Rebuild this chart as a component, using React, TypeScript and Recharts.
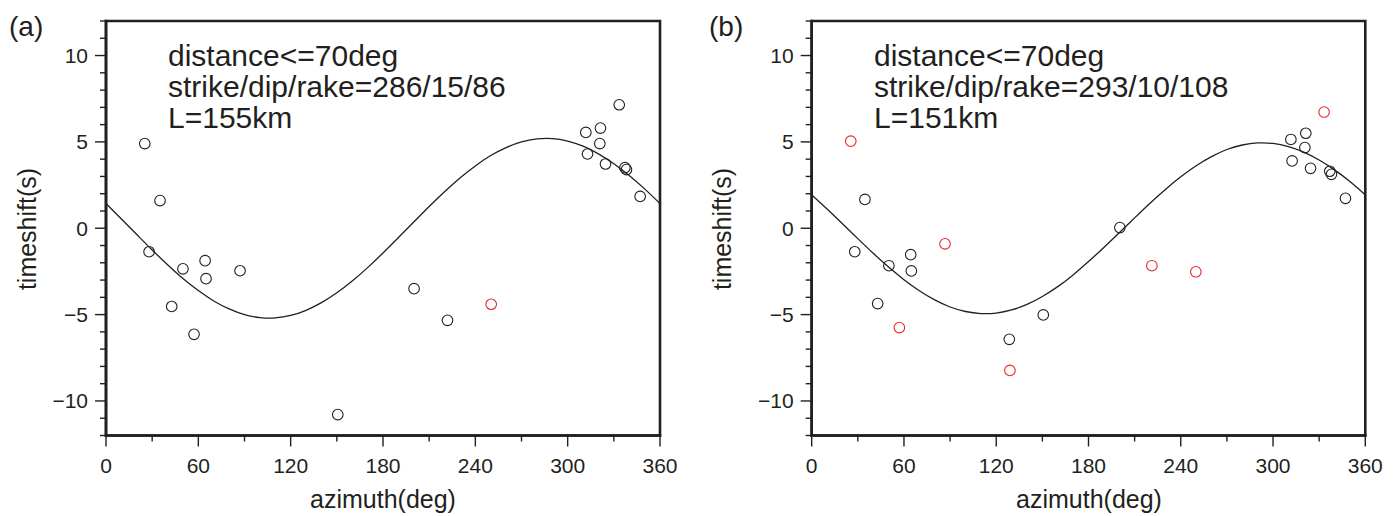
import React from 'react';
import { ComposedChart, Scatter, Line, XAxis, YAxis, ReferenceArea } from 'recharts';

// ---------- data ----------
const curveAzimuth = [0, 10, 20, 30, 40, 50, 60, 70, 80, 90, 100, 110, 120, 130, 140, 150, 160, 170, 180, 190, 200, 210, 220, 230, 240, 250, 260, 270, 280, 290, 300, 310, 320, 330, 340, 350, 360];
const curveShiftA = [1.43, 0.54, -0.36, -1.26, -2.11, -2.91, -3.61, -4.21, -4.67, -5.0, -5.17, -5.19, -5.05, -4.75, -4.31, -3.74, -3.06, -2.28, -1.43, -0.54, 0.36, 1.26, 2.11, 2.91, 3.61, 4.21, 4.67, 5.0, 5.17, 5.19, 5.05, 4.75, 4.31, 3.74, 3.06, 2.28, 1.43];
const curveShiftB = [1.93, 1.11, 0.26, -0.6, -1.45, -2.25, -2.98, -3.62, -4.15, -4.56, -4.82, -4.94, -4.91, -4.73, -4.41, -3.95, -3.38, -2.7, -1.93, -1.11, -0.26, 0.6, 1.45, 2.25, 2.98, 3.62, 4.15, 4.56, 4.82, 4.94, 4.91, 4.73, 4.41, 3.95, 3.38, 2.7, 1.93];

const azimuthA = [25.2, 35.1, 28.0, 50.0, 42.7, 57.2, 64.4, 65.0, 87.1, 150.6, 200.2, 221.9, 333.5, 311.8, 321.3, 320.9, 312.9, 324.6, 337.2, 338.2, 347.1];
const shiftA = [4.9, 1.6, -1.36, -2.35, -4.53, -6.14, -1.88, -2.92, -2.46, -10.79, -3.5, -5.33, 7.15, 5.55, 5.8, 4.9, 4.3, 3.72, 3.51, 3.4, 1.84];
const azimuthARed = [250.3];
const shiftARed = [-4.4];

const azimuthB = [34.6, 28.0, 50.2, 42.9, 64.4, 64.8, 128.5, 150.6, 200.4, 321.3, 311.6, 320.7, 312.4, 324.4, 336.9, 338.0, 347.1];
const shiftB = [1.67, -1.36, -2.17, -4.36, -1.53, -2.47, -6.43, -5.02, 0.04, 5.5, 5.14, 4.67, 3.9, 3.47, 3.3, 3.12, 1.73];
const azimuthBRed = [25.4, 57.0, 86.7, 128.9, 221.2, 249.8, 333.2];
const shiftBRed = [5.04, -5.75, -0.9, -8.23, -2.17, -2.52, 6.73];

const xTicks = [0, 30, 60, 90, 120, 150, 180, 210, 240, 270, 300, 330, 360];
const yTicks = [-12, -11, -10, -9, -8, -7, -6, -5, -4, -3, -2, -1, 0, 1, 2, 3, 4, 5, 6, 7, 8, 9, 10, 11, 12];

const panelALines = ['distance<=70deg', 'strike/dip/rake=286/15/86', 'L=155km'];
const panelBLines = ['distance<=70deg', 'strike/dip/rake=293/10/108', 'L=151km'];

// ---------- style ----------
const INK = '#231f20';
const RED = '#e8262b';
const FONT = '"Liberation Sans", Arial, Helvetica, sans-serif';

const zip = (xs: number[], ys: number[]) => xs.map((x, i) => ({ x, y: ys[i] }));

const fmt = (v: number) => (v < 0 ? '\u2212' + Math.abs(v) : String(v));

const BottomTick = (p: any) => {
  const { x, y, payload } = p;
  const v = payload.value;
  const major = v % 60 === 0;
  return (
    <g>
      <line x1={x} x2={x} y1={y} y2={y + (major ? 11 : 6)} stroke={INK} strokeWidth={1.4} />
      {major && (
        <text x={x} y={y + 37} textAnchor="middle" fontSize={21} fontFamily={FONT} fill={INK}>
          {v}
        </text>
      )}
    </g>
  );
};

const TopTick = (p: any) => {
  const { x, y, payload } = p;
  const major = payload.value % 60 === 0;
  return <line x1={x} x2={x} y1={y} y2={y - (major ? 11 : 6)} stroke={INK} strokeWidth={1.4} />;
};

const LeftTick = (p: any) => {
  const { x, y, payload } = p;
  const v = payload.value;
  const major = v % 5 === 0;
  return (
    <g>
      <line x1={x} x2={x - (major ? 11 : 6)} y1={y} y2={y} stroke={INK} strokeWidth={1.4} />
      {major && (
        <text x={x - 18} y={y + 7.5} textAnchor="end" fontSize={21} fontFamily={FONT} fill={INK}>
          {fmt(v)}
        </text>
      )}
    </g>
  );
};

const RightTick = (p: any) => {
  const { x, y, payload } = p;
  const major = payload.value % 5 === 0;
  return <line x1={x} x2={x + (major ? 11 : 6)} y1={y} y2={y} stroke={INK} strokeWidth={1.4} />;
};

const circleShape = (color: string) => (p: any) => (
  <circle cx={p.cx} cy={p.cy} r={5.3} fill="none" stroke={color} strokeWidth={1.1} />
);

const axisLine = { stroke: INK, strokeWidth: 2.6, strokeLinecap: 'square' as const };

type PanelProps = {
  left: number;
  width: number;
  yAxisWidth: number;
  rightMargin: number;
  curve: number[];
  az: number[];
  sh: number[];
  azRed: number[];
  shRed: number[];
};

const Panel = ({ left, width, yAxisWidth, rightMargin, curve, az, sh, azRed, shRed }: PanelProps) => (
  <div style={{ position: 'absolute', left, top: 0 }}>
    <ComposedChart width={width} height={516} margin={{ top: 21, right: rightMargin, bottom: 0, left: 0 }}>
      <XAxis
        xAxisId="main"
        dataKey="x"
        type="number"
        domain={[0, 360]}
        ticks={xTicks}
        allowDataOverflow
        interval={0}
        height={80.5}
        axisLine={axisLine}
        tickLine={false}
        tickSize={0}
        tickMargin={0}
        tick={BottomTick}
      />
      <XAxis
        xAxisId="top"
        orientation="top"
        dataKey="x"
        type="number"
        domain={[0, 360]}
        ticks={xTicks}
        allowDataOverflow
        interval={0}
        height={0}
        axisLine={axisLine}
        tickLine={false}
        tickSize={0}
        tickMargin={0}
        tick={TopTick}
      />
      <YAxis
        yAxisId="main"
        dataKey="y"
        type="number"
        domain={[-12, 12]}
        ticks={yTicks}
        allowDataOverflow
        interval={0}
        width={yAxisWidth}
        axisLine={axisLine}
        tickLine={false}
        tickSize={0}
        tickMargin={0}
        tick={LeftTick}
      />
      <YAxis
        yAxisId="right"
        orientation="right"
        dataKey="y"
        type="number"
        domain={[-12, 12]}
        ticks={yTicks}
        allowDataOverflow
        interval={0}
        width={0}
        axisLine={axisLine}
        tickLine={false}
        tickSize={0}
        tickMargin={0}
        tick={RightTick}
      />
      <ReferenceArea
        xAxisId="main"
        yAxisId="main"
        x1={0}
        x2={360}
        y1={-12}
        y2={12}
        fill="none"
        fillOpacity={0}
        stroke={INK}
        strokeWidth={2.6}
        ifOverflow="visible"
      />
      <Line
        xAxisId="main"
        yAxisId="main"
        data={zip(curveAzimuth, curve)}
        dataKey="y"
        type="natural"
        stroke={INK}
        strokeWidth={1.3}
        dot={false}
        activeDot={false}
        isAnimationActive={false}
      />
      <Scatter
        xAxisId="main"
        yAxisId="main"
        data={zip(az, sh)}
        shape={circleShape(INK)}
        isAnimationActive={false}
      />
      <Scatter
        xAxisId="main"
        yAxisId="main"
        data={zip(azRed, shRed)}
        shape={circleShape(RED)}
        isAnimationActive={false}
      />
    </ComposedChart>
  </div>
);

const Annotations = ({ offsetX, tag, lines, textX, yTitleX }: { offsetX: number; tag: string; lines: string[]; textX: number; yTitleX: number }) => (
  <svg
    width={700}
    height={516}
    style={{ position: 'absolute', left: offsetX, top: 0, pointerEvents: 'none', overflow: 'visible' }}
  >
    <text x={9} y={36} fontSize={28} fontFamily={FONT} fill={INK}>
      {tag}
    </text>
    {lines.map((l, i) => (
      <text key={i} x={textX} y={66 + i * 31} fontSize={30} fontFamily={FONT} fill={INK}>
        {l}
      </text>
    ))}
    <text
      x={yTitleX}
      y={229}
      transform={`rotate(-90 ${yTitleX} 229)`}
      textAnchor="middle"
      fontSize={25}
      fontFamily={FONT}
      fill={INK}
    >
      timeshift(s)
    </text>
  </svg>
);

const XTitle = ({ cx }: { cx: number }) => (
  <svg width={300} height={516} style={{ position: 'absolute', left: cx - 150, top: 0, pointerEvents: 'none' }}>
    <text x={150} y={508} textAnchor="middle" fontSize={25} fontFamily={FONT} fill={INK}>
      azimuth(deg)
    </text>
  </svg>
);

export default function App() {
  return (
    <div
      style={{
        position: 'absolute',
        left: 0,
        top: 0,
        width: 1397,
        height: 516,
        background: '#ffffff',
        fontFamily: FONT,
        overflow: 'hidden',
      }}
    >
      <Panel
        left={0}
        width={700}
        yAxisWidth={106}
        rightMargin={40}
        curve={curveShiftA}
        az={azimuthA}
        sh={shiftA}
        azRed={azimuthARed}
        shRed={shiftARed}
      />
      <Panel
        left={700}
        width={697}
        yAxisWidth={111.7}
        rightMargin={31.7}
        curve={curveShiftB}
        az={azimuthB}
        sh={shiftB}
        azRed={azimuthBRed}
        shRed={shiftBRed}
      />
      <Annotations offsetX={0} tag="(a)" lines={panelALines} textX={168} yTitleX={36} />
      <Annotations offsetX={700} tag="(b)" lines={panelBLines} textX={174} yTitleX={31} />
      <XTitle cx={383} />
      <XTitle cx={1088.5} />
    </div>
  );
}
